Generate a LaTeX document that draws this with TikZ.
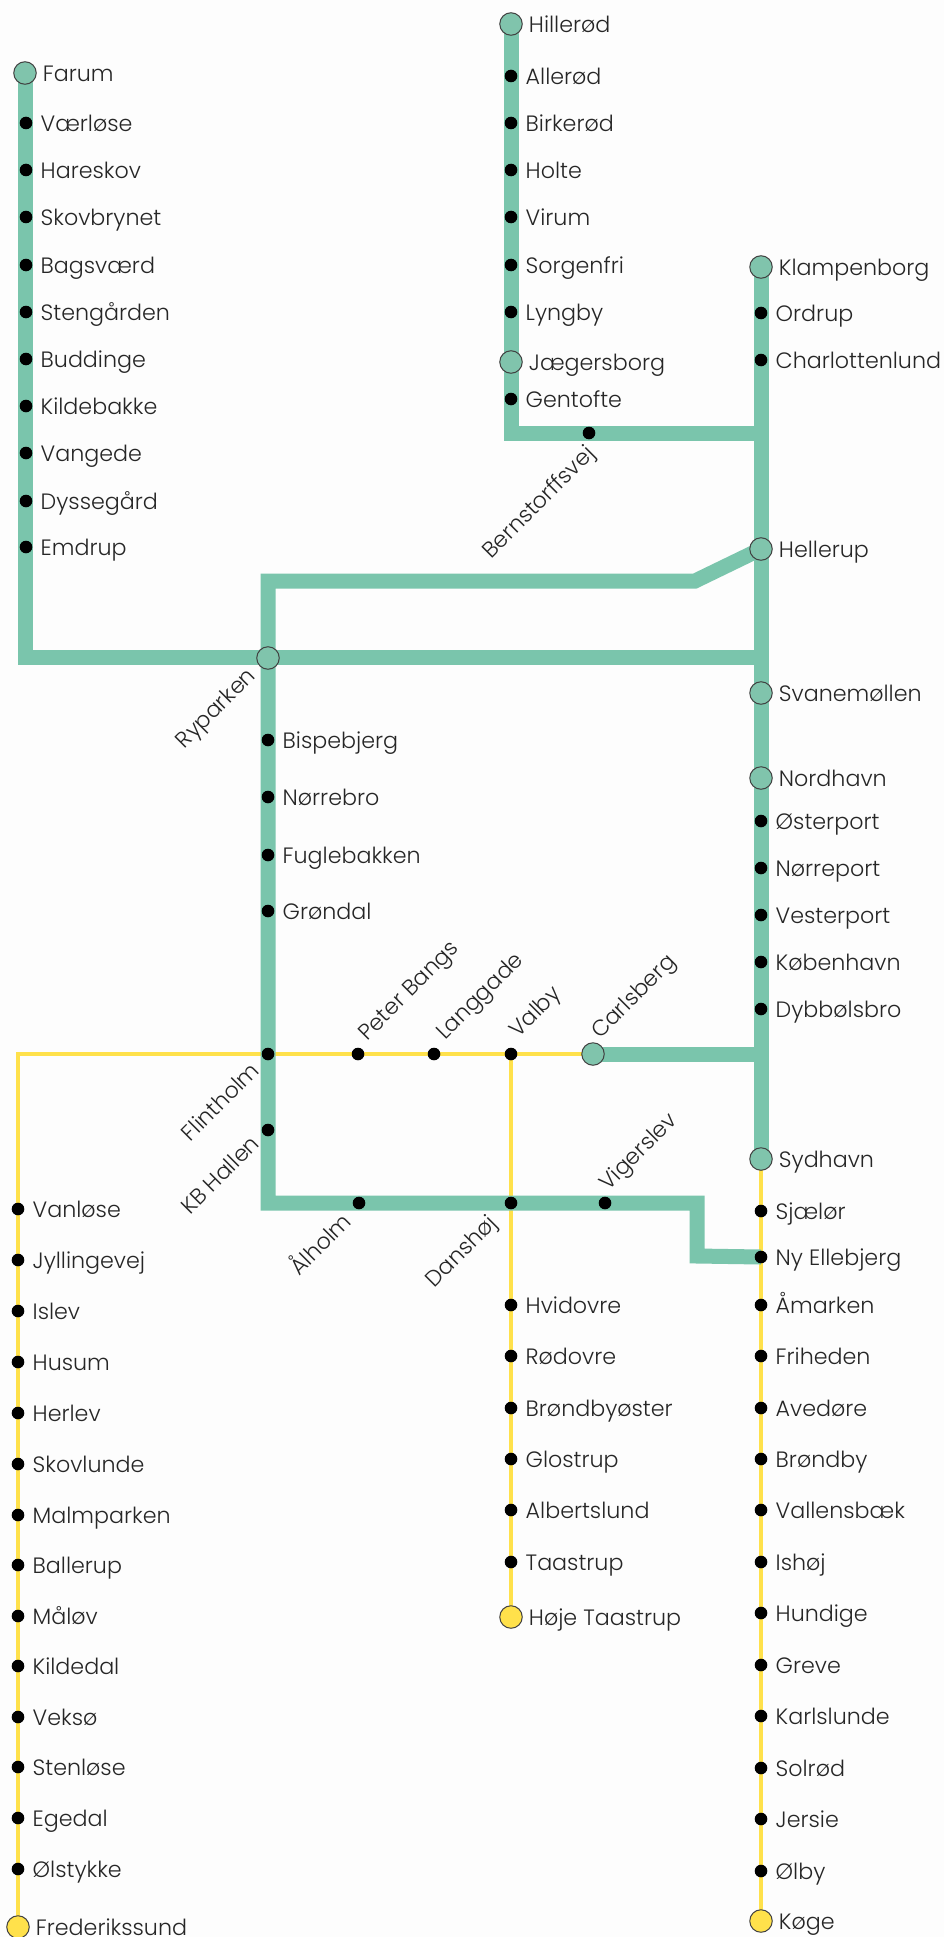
\documentclass[tikz,border=0pt]{standalone}
\usepackage{fontspec}
\setmainfont{Poppins Light}
\usetikzlibrary{positioning,backgrounds}
\definecolor{linegreen}{RGB}{122,197,172}
\definecolor{hubgreen}{RGB}{128,196,172}
\definecolor{lineyellow}{RGB}{255,225,75}
\definecolor{paper}{RGB}{253,253,253}
\tikzset{
  greenline/.style={draw=linegreen,line width=15pt},
  yellowline/.style={draw=lineyellow,line width=3.2pt},
  stop/.style={circle,fill=black,inner sep=0pt,minimum size=12.6pt},
  hub/.style={circle,draw=black!75,line width=1pt,fill=hubgreen,inner sep=0pt,outer sep=-1.5pt,minimum size=22.5pt},
  endstop/.style={circle,draw=black!75,line width=1pt,fill=lineyellow,inner sep=0pt,outer sep=-1.5pt,minimum size=22.5pt},
  stationname/.style={font=\fontsize{22.2}{22.2}\selectfont,text=black!85,inner sep=0pt,text height=17pt,text depth=0pt},
  tiltup/.style={stationname,rotate=45,anchor=west},
  tiltdown/.style={stationname,rotate=45,anchor=east},
  every label/.style={stationname}
}
\begin{document}
\begin{tikzpicture}[x=1pt,y=-1pt,label distance=8pt]
\useasboundingbox (0,0) rectangle (944,1937);

% Farum line
\node[hub,label=right:Farum] (farum) at (25,73) {};
\node[stop,label=right:Værløse] (vaerlose) at (26,123) {};
\node[stop,label=right:Hareskov] (hareskov) at (26,170) {};
\node[stop,label=right:Skovbrynet] (skovbrynet) at (26,217) {};
\node[stop,label=right:Bagsværd] (bagsvaerd) at (26,265) {};
\node[stop,label=right:Stengården] (stengaarden) at (26,312) {};
\node[stop,label=right:Buddinge] (buddinge) at (26,359) {};
\node[stop,label=right:Kildebakke] (kildebakke) at (26,406) {};
\node[stop,label=right:Vangede] (vangede) at (26,453) {};
\node[stop,label=right:Dyssegård] (dyssegaard) at (26,501) {};
\node[stop,label=right:Emdrup] (emdrup) at (26,547) {};

% Hillerod line
\node[hub,label=right:Hillerød] (hillerod) at (511,24) {};
\node[stop,label=right:Allerød] (allerod) at (511,76) {};
\node[stop,label=right:Birkerød] (birkerod) at (511,123) {};
\node[stop,label=right:Holte] (holte) at (511,170) {};
\node[stop,label=right:Virum] (virum) at (511,217) {};
\node[stop,label=right:Sorgenfri] (sorgenfri) at (511,265) {};
\node[stop,label=right:Lyngby] (lyngby) at (511,312) {};
\node[hub,label=right:Jægersborg] (jaegersborg) at (511,362) {};
\node[stop,label=right:Gentofte] (gentofte) at (511,399) {};
\node[stop] (bernstorffsvej) at (589,433) {};

% trunk on the right
\node[hub,label=right:Klampenborg] (klampenborg) at (761,267) {};
\node[stop,label=right:Ordrup] (ordrup) at (761,313) {};
\node[stop,label=right:Charlottenlund] (charlottenlund) at (761,360) {};
\node[hub,label=right:Hellerup] (hellerup) at (761,549) {};
\node[hub,label=right:Svanemøllen] (svanemollen) at (761,693) {};
\node[hub,label=right:Nordhavn] (nordhavn) at (761,778) {};
\node[stop,label=right:Østerport] (osterport) at (761,821) {};
\node[stop,label=right:Nørreport] (norreport) at (761,868) {};
\node[stop,label=right:Vesterport] (vesterport) at (761,915) {};
\node[stop,label=right:København] (kobenhavn) at (761,962) {};
\node[stop,label=right:Dybbølsbro] (dybbolsbro) at (761,1009) {};
\node[hub,label=right:Sydhavn] (sydhavn) at (761,1159) {};

% ring
\node[hub] (ryparken) at (268,658) {};
\node[stop,label=right:Bispebjerg] (bispebjerg) at (268,740) {};
\node[stop,label=right:Nørrebro] (norrebro) at (268,797) {};
\node[stop,label=right:Fuglebakken] (fuglebakken) at (268,855) {};
\node[stop,label=right:Grøndal] (grondal) at (268,911) {};
\node[stop] (flintholm) at (268,1054) {};
\node[stop] (kbhallen) at (268,1130) {};
\node[stop] (aalholm) at (359,1203) {};
\node[stop] (danshoj) at (511,1203) {};
\node[stop] (vigerslev) at (605,1203) {};

% Frederikssund line
\node[stop] (peterbangs) at (358,1054) {};
\node[stop] (langgade) at (434,1054) {};
\node[stop] (valby) at (511,1054) {};
\node[hub] (carlsberg) at (593,1054) {};
\node[stop,label=right:Vanløse] (vanlose) at (18,1209) {};
\node[stop,label=right:Jyllingevej] (jyllingevej) at (18,1260) {};
\node[stop,label=right:Islev] (islev) at (18,1311) {};
\node[stop,label=right:Husum] (husum) at (18,1362) {};
\node[stop,label=right:Herlev] (herlev) at (18,1413) {};
\node[stop,label=right:Skovlunde] (skovlunde) at (18,1464) {};
\node[stop,label=right:Malmparken] (malmparken) at (18,1515) {};
\node[stop,label=right:Ballerup] (ballerup) at (18,1565) {};
\node[stop,label=right:Måløv] (maalov) at (18,1616) {};
\node[stop,label=right:Kildedal] (kildedal) at (18,1666) {};
\node[stop,label=right:Veksø] (vekso) at (18,1717) {};
\node[stop,label=right:Stenløse] (stenlose) at (18,1767) {};
\node[stop,label=right:Egedal] (egedal) at (18,1818) {};
\node[stop,label=right:Ølstykke] (olstykke) at (18,1869) {};
\node[endstop,label=right:Frederikssund] (frederikssund) at (18,1927) {};

% Hoje Taastrup line
\node[stop,label=right:Hvidovre] (hvidovre) at (511,1305) {};
\node[stop,label=right:Rødovre] (rodovre) at (511,1356) {};
\node[stop,label=right:Brøndbyøster] (brondbyoster) at (511,1408) {};
\node[stop,label=right:Glostrup] (glostrup) at (511,1459) {};
\node[stop,label=right:Albertslund] (albertslund) at (511,1510) {};
\node[stop,label=right:Taastrup] (taastrup) at (511,1562) {};
\node[endstop,label=right:Høje Taastrup] (hojetaastrup) at (511,1617) {};

% Koge line
\node[stop,label=right:Sjælør] (sjaelor) at (761,1211) {};
\node[stop,label=right:Ny Ellebjerg] (nyellebjerg) at (761,1257) {};
\node[stop,label=right:Åmarken] (aamarken) at (761,1305) {};
\node[stop,label=right:Friheden] (friheden) at (761,1356) {};
\node[stop,label=right:Avedøre] (avedore) at (761,1408) {};
\node[stop,label=right:Brøndby] (brondby) at (761,1459) {};
\node[stop,label=right:Vallensbæk] (vallensbaek) at (761,1510) {};
\node[stop,label=right:Ishøj] (ishoj) at (761,1562) {};
\node[stop,label=right:Hundige] (hundige) at (761,1613) {};
\node[stop,label=right:Greve] (greve) at (761,1665) {};
\node[stop,label=right:Karlslunde] (karlslunde) at (761,1716) {};
\node[stop,label=right:Solrød] (solrod) at (761,1768) {};
\node[stop,label=right:Jersie] (jersie) at (761,1819) {};
\node[stop,label=right:Ølby] (olby) at (761,1871) {};
\node[endstop,label=right:Køge] (koge) at (761,1921) {};

% slanted names
\node[above right=18pt and 3pt of peterbangs.center,tiltup] (peterbangsname) {Peter Bangs};
\node[above right=19pt and 5pt of langgade.center,tiltup] (langgadename) {Langgade};
\node[above right=21pt and 1pt of valby.center,tiltup] (valbyname) {Valby};
\node[above right=20pt and 1pt of carlsberg.center,tiltup] (carlsbergname) {Carlsberg};
\node[above right=17pt and -3pt of vigerslev.center,tiltup] (vigerslevname) {Vigerslev};
\node[below right=16pt and 1pt of bernstorffsvej.center,tiltdown] (bernstorffsvejname) {Bernstorffsvej};
\node[below left=13pt and 17pt of ryparken.center,tiltdown] (ryparkenname) {Ryparken};
\node[below left=12pt and 13pt of flintholm.center,tiltdown] (flintholmname) {Flintholm};
\node[below left=9pt and 13pt of kbhallen.center,tiltdown] (kbhallenname) {KB Hallen};
\node[below left=14pt and 12pt of aalholm.center,tiltdown] (aalholmname) {Ålholm};
\node[below left=16pt and 19pt of danshoj.center,tiltdown] (danshojname) {Danshøj};

% corners and junctions
\coordinate (farumcorner) at (25,657);
\coordinate (ryparkenjoin) at (761,657);
\coordinate (gentoftecorner) at (511,433);
\coordinate (gentoftejoin) at (761,433);
\coordinate (ringtop) at (268,581);
\coordinate (ringbend) at (695,581);
\coordinate (ringbottom) at (268,1203);
\coordinate (stepa) at (697,1203);
\coordinate (stepb) at (697,1256);
\coordinate (carlsbergjoin) at (761,1054);
\coordinate (westcorner) at (18,1054);

\begin{scope}[on background layer]
\fill[paper] (0,0) rectangle (944,1937);
\path[yellowline] (frederikssund.center) -- (westcorner) -- (carlsberg.center);
\path[yellowline] (valby.center) -- (hojetaastrup.center);
\path[yellowline] (sydhavn.center) -- (koge.center);
\path[greenline] (farum.center) -- (farumcorner) -- (ryparkenjoin);
\path[greenline] (hillerod.center) -- (gentoftecorner) -- (gentoftejoin);
\path[greenline] (klampenborg.center) -- (sydhavn.center);
\path[greenline] (hellerup.center) -- (ringbend) -- (ringtop) -- (ringbottom) -- (stepa) -- (stepb) -- (nyellebjerg.center);
\path[greenline] (carlsberg.center) -- (carlsbergjoin);
\end{scope}
\end{tikzpicture}
\end{document}
